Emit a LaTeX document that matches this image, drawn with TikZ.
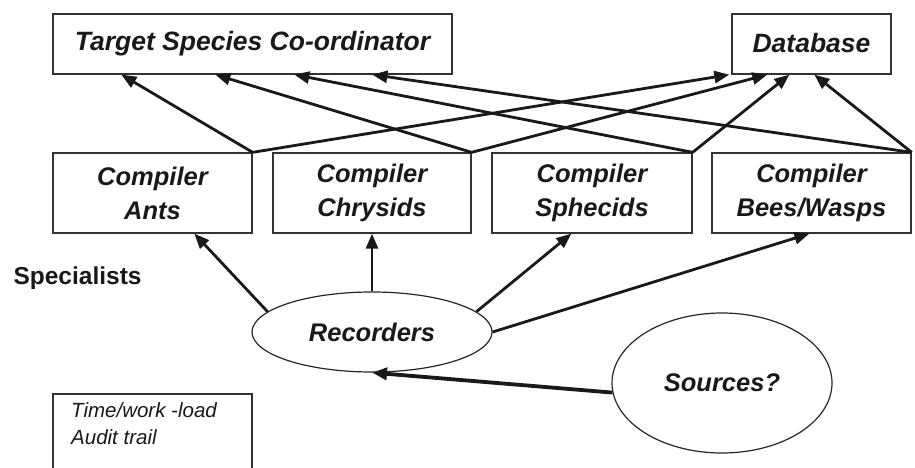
\documentclass[tikz,border=0pt]{standalone}
\usepackage{fontspec}
\setmainfont{Liberation Sans}
\usetikzlibrary{shapes.geometric,arrows.meta}

\tikzset{
  x=1pt, y=-1pt,
  boxtext/.style={font=\bfseries\itshape\fontsize{25.5}{34}\selectfont, text=black!90},
  rolebox/.style={boxtext, draw=black!80, line width=1.3pt, rectangle, inner sep=0pt, align=center},
  rolecloud/.style={boxtext, draw=black!85, line width=1.2pt, ellipse, inner sep=0pt},
  flow/.style={line width=2.8pt, draw=black!90, -{Triangle[length=15pt,width=12pt]}},
  heavyflow/.style={flow, line width=3.8pt},
}

\begin{document}
\begin{tikzpicture}
  \clip (0,0) rectangle (915,468);
  \fill[white] (0,0) rectangle (915,468);

  % top level
  \node[rolebox, minimum width=399pt, minimum height=60pt, font=\bfseries\itshape\fontsize{26.5}{34}\selectfont] (tsc) at (252.5,44) {\raisebox{3pt}{Target Species Co-ordinator}};
  \node[rolebox, minimum width=159pt, minimum height=60pt, font=\bfseries\itshape\fontsize{26.5}{34}\selectfont] (db) at (811.5,44) {\raisebox{3pt}{Database}};

  % compilers
  \node[rolebox, minimum width=199pt, minimum height=80pt] (ants) at (152.5,193) {Compiler\\Ants};
  \node[rolebox, minimum width=198pt, minimum height=80pt] (chr) at (372,193) {Compiler\\Chrysids};
  \node[rolebox, minimum width=200pt, minimum height=80pt] (sph) at (592,193) {Compiler\\Sphecids};
  \node[rolebox, minimum width=199pt, minimum height=80pt] (bees) at (811.5,193) {Compiler\\Bees/Wasps};

  % recorders and sources
  \node[rolecloud, minimum width=240pt, minimum height=80pt] (rec) at (372,332) {Recorders};
  \node[rolecloud, minimum width=220pt, minimum height=140pt] (src) at (722,383) {Sources?};

  \node[anchor=west, font=\bfseries\fontsize{24.5}{28}\selectfont, text=black!90] (spec) at (10,278) {Specialists};

  % workload note
  \draw[black!80, line width=1.3pt] (53,394) rectangle (252,480);
  \node[anchor=north west, align=left, inner sep=0pt,
        font=\itshape\fontsize{20.5}{27}\selectfont, text=black!90] (note) at (71,402)
        {Time/work -load\\Audit trail};

  % compilers report to the co-ordinator
  \draw[flow] (ants.north east) -- ([xshift=69pt]tsc.south west);
  \draw[flow] (chr.north east)  -- ([xshift=163pt]tsc.south west);
  \draw[flow] (sph.north east)  -- ([xshift=242pt]tsc.south west);
  \draw[flow] (bees.north east) -- ([xshift=320pt]tsc.south west);

  % compilers feed the database
  \draw[flow] (ants.north east) -- ([xshift=-2pt]db.south west);
  \draw[flow] (chr.north east)  -- ([xshift=36pt]db.south west);
  \draw[flow] (sph.north east)  -- ([xshift=58pt]db.south west);
  \draw[flow] (bees.north east) -- ([xshift=83pt]db.south west);

  % recorders send to compilers
  \draw[flow] (rec.169) -- ([xshift=142pt]ants.south west);
  \draw[flow] (rec.north) -- (chr.south);
  \draw[flow] (rec.11) -- ([xshift=80pt]sph.south west);
  \draw[flow] (rec.east) -- ([xshift=98pt]bees.south west);

  % sources feed recorders
  \draw[heavyflow] (src.185) -- (rec.south);
\end{tikzpicture}
\end{document}
